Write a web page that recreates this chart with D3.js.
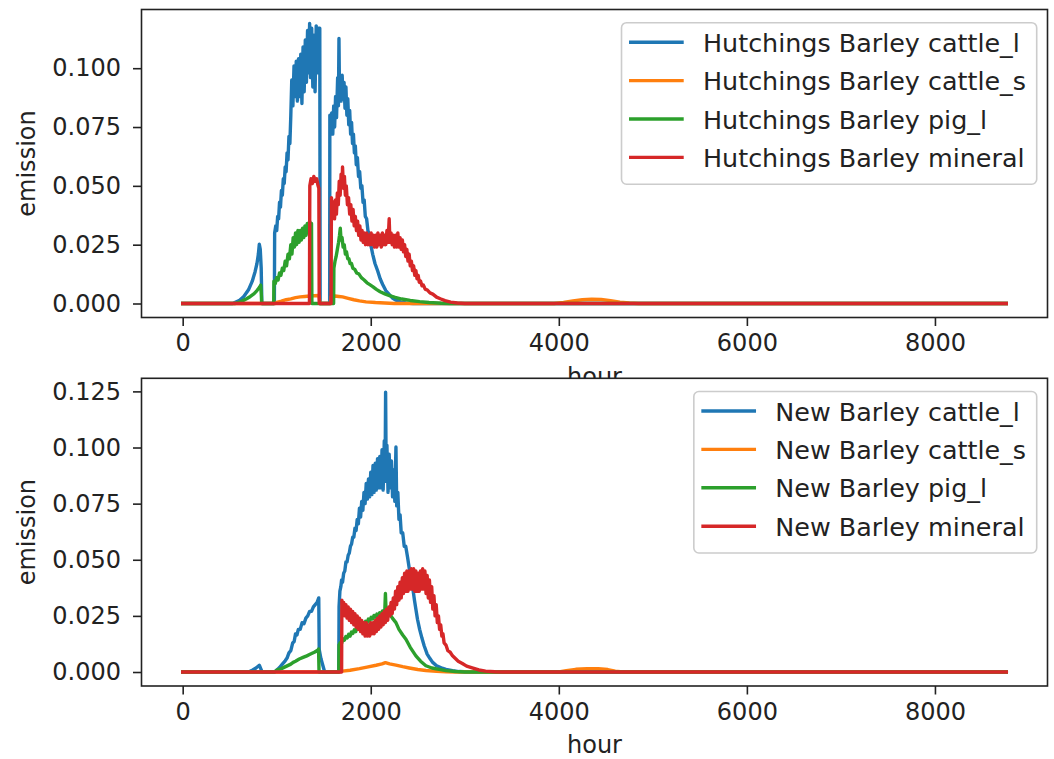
<!DOCTYPE html>
<html>
<head>
<meta charset="utf-8">
<script src="https://cdn.jsdelivr.net/npm/d3@7"></script>
<style>
  body { margin: 0; background: #fff; }
  svg { display: block; }
  text { font-family: "DejaVu Sans", sans-serif; fill: #222; }
</style>
</head>
<body>
<svg id="chart" width="1054" height="759"></svg>
<script>
// ---- Hourly emission series, [hour, emission] ----
const hutchCattleL = [
  [0,0],[530,0],[600,0.0012],[650,0.003],[700,0.0058],[740,0.0095],[770,0.0135],[790,0.017],[805,0.021],[815,0.0252],[825,0.023],[835,0.015],[842,0],
  [975,0],[978,0.030],[990,0.033],[1000,0.031],[1010,0.037],[1020,0.036],[1030,0.043],[1040,0.041],[1050,0.048],[1060,0.046],[1070,0.053],[1080,0.051],[1090,0.058],
  [1100,0.056],[1110,0.064],[1120,0.061],[1130,0.071],[1140,0.068],[1150,0.080],
  [1160,0.095],[1172,0.084],[1184,0.101],[1196,0.088],[1208,0.103],[1220,0.086],[1232,0.104],[1244,0.088],[1256,0.106],[1268,0.085],[1280,0.109],[1292,0.090],
  [1304,0.112],[1316,0.094],[1328,0.116],[1340,0.098],[1350,0.119],[1360,0.096],[1372,0.117],[1384,0.092],[1396,0.114],[1408,0.090],[1420,0.118],[1432,0.098],
  [1444,0.117],[1452,0.105],[1458,0.117],[1462,0],
  [1563,0],[1565,0.080],[1575,0.073],[1585,0.081],[1596,0.072],[1606,0.084],[1616,0.075],[1626,0.088],[1636,0.079],[1648,0.096],[1656,0.084],[1662,0.1126],
  [1668,0.088],[1676,0.094],[1686,0.086],[1696,0.097],[1706,0.087],[1716,0.094],[1726,0.083],[1736,0.092],[1746,0.080],[1756,0.087],[1766,0.076],[1776,0.082],
  [1786,0.072],[1796,0.077],[1806,0.068],[1816,0.072],[1826,0.064],[1836,0.067],[1846,0.059],[1858,0.062],[1870,0.054],[1882,0.056],[1894,0.049],[1906,0.050],
  [1918,0.043],[1930,0.044],[1942,0.037],[1956,0.036],[1970,0.031],[1986,0.029],[2000,0.025],[2021,0.0209],[2045,0.017],[2074,0.0138],[2100,0.0105],[2127,0.0081],
  [2160,0.0055],[2198,0.0038],[2235,0.0022],[2269,0.0014],[2320,0.0006],[2374,0.0002],[2450,0],[8759,0]
];
const hutchCattleS = [
  [0,0],[980,0],[1000,0.0005],[1050,0.001],[1100,0.0016],[1150,0.002],[1200,0.0025],[1250,0.0028],[1300,0.003],[1350,0.0032],[1400,0.0033],[1450,0.0034],[1460,0],
  [1575,0],[1580,0.003],[1620,0.0032],[1660,0.003],[1700,0.0028],[1760,0.0022],[1820,0.0016],[1880,0.0011],[1950,0.0007],[2050,0.0004],[2150,0.0002],[2250,0],
  [3950,0],[4050,0.0005],[4150,0.0011],[4250,0.0016],[4350,0.0018],[4450,0.0017],[4550,0.0012],[4650,0.0006],[4750,0.0002],[4850,0],[8759,0]
];
const hutchPigL = [
  [0,0],[560,0],[620,0.0008],[680,0.002],[720,0.003],[760,0.0042],[790,0.0055],[815,0.0068],[830,0.0078],[836,0.004],[840,0],
  [968,0],[970,0.0095],[985,0.0085],[1000,0.011],[1015,0.010],[1030,0.013],[1045,0.012],[1060,0.015],[1075,0.014],[1090,0.018],[1105,0.016],[1120,0.021],
  [1135,0.019],[1150,0.025],[1162,0.021],[1175,0.028],[1188,0.024],[1200,0.030],[1212,0.025],[1225,0.031],[1238,0.026],[1250,0.031],[1262,0.027],[1275,0.032],
  [1288,0.028],[1300,0.033],[1312,0.029],[1325,0.034],[1338,0.030],[1350,0.035],[1362,0.030],[1370,0.034],[1374,0],
  [1605,0],[1608,0.015],[1620,0.018],[1632,0.020],[1645,0.023],[1658,0.026],[1668,0.029],[1676,0.032],[1684,0.027],[1695,0.028],[1706,0.024],[1718,0.025],
  [1730,0.021],[1742,0.022],[1755,0.019],[1768,0.019],[1780,0.017],[1795,0.017],[1810,0.015],[1830,0.0145],[1850,0.013],[1875,0.0125],[1900,0.011],[1930,0.010],
  [1960,0.0088],[1990,0.008],[2021,0.0072],[2060,0.006],[2100,0.005],[2150,0.0041],[2200,0.0033],[2260,0.0026],[2330,0.0019],[2420,0.0013],[2520,0.0008],
  [2620,0.0004],[2750,0.0001],[2850,0],[8759,0]
];
const hutchMineral = [
  [0,0],[1348,0],[1352,0.050],[1365,0.053],[1380,0.051],[1395,0.054],[1410,0.052],[1425,0.053],[1440,0.050],[1448,0.049],[1452,0],
  [1578,0],[1582,0.045],[1595,0.040],[1605,0.043],[1615,0.036],[1625,0.044],[1635,0.038],[1645,0.047],[1655,0.042],[1665,0.052],[1675,0.046],[1685,0.055],
  [1695,0.050],[1700,0.058],[1710,0.049],[1720,0.054],[1730,0.046],[1740,0.050],[1752,0.042],[1764,0.045],[1776,0.038],[1788,0.042],[1800,0.035],[1812,0.040],
  [1824,0.033],[1836,0.037],[1848,0.031],[1860,0.035],[1872,0.029],[1884,0.033],[1896,0.027],[1908,0.031],[1920,0.026],[1932,0.030],[1944,0.025],[1956,0.030],
  [1968,0.025],[1980,0.029],[1992,0.025],[2004,0.030],[2016,0.025],[2028,0.029],[2040,0.024],[2052,0.029],[2064,0.024],[2076,0.030],[2088,0.025],[2100,0.029],
  [2112,0.024],[2124,0.030],[2136,0.025],[2148,0.029],[2160,0.025],[2172,0.031],[2184,0.026],[2196,0.036],[2204,0.026],[2216,0.030],[2228,0.025],[2240,0.029],
  [2252,0.024],[2264,0.029],[2276,0.024],[2288,0.030],[2300,0.024],[2312,0.028],[2324,0.023],[2336,0.027],[2348,0.022],[2360,0.025],[2372,0.020],[2384,0.023],
  [2396,0.018],[2408,0.021],[2420,0.016],[2432,0.018],[2444,0.014],[2456,0.016],[2468,0.012],[2480,0.014],[2492,0.0105],[2504,0.012],[2516,0.009],[2530,0.0095],
  [2545,0.0075],[2560,0.0078],[2580,0.006],[2600,0.0058],[2630,0.0045],[2660,0.004],[2700,0.0027],[2740,0.002],[2790,0.0012],[2850,0.0006],[2920,0.0002],
  [3000,0],[8759,0]
];

const newCattleL = [
  [0,0],[700,0],[740,0.0008],[780,0.0018],[815,0.003],[830,0.0015],[845,0],
  [975,0],[1000,0.0008],[1030,0.002],[1060,0.0035],[1090,0.005],[1110,0.0062],[1130,0.0085],[1150,0.0095],[1170,0.013],[1185,0.0135],[1200,0.017],[1215,0.0165],
  [1230,0.019],[1250,0.019],[1270,0.022],[1290,0.0215],[1310,0.024],[1330,0.025],[1350,0.027],[1370,0.027],[1390,0.029],[1410,0.030],[1430,0.031],[1447,0.033],
  [1452,0.010],[1470,0.006],[1490,0.003],[1510,0],
  [1660,0],[1663,0.029],[1672,0.036],[1682,0.038],[1690,0.041],[1700,0.040],[1712,0.044],[1724,0.045],[1736,0.049],[1748,0.049],[1760,0.052],[1772,0.053],
  [1784,0.056],[1796,0.057],[1808,0.060],[1820,0.060],[1832,0.064],[1844,0.063],[1856,0.068],[1868,0.066],[1880,0.073],[1892,0.069],[1904,0.076],[1916,0.072],
  [1928,0.080],[1940,0.075],[1952,0.084],[1964,0.077],[1976,0.086],[1988,0.078],[2000,0.089],[2012,0.079],[2024,0.092],[2036,0.080],[2048,0.093],[2060,0.081],
  [2072,0.095],[2084,0.082],[2096,0.096],[2108,0.082],[2120,0.099],[2132,0.081],[2144,0.103],[2152,0.085],[2158,0.1246],[2164,0.088],[2172,0.101],[2184,0.080],
  [2196,0.097],[2208,0.082],[2220,0.094],[2232,0.078],[2244,0.090],[2256,0.076],[2268,0.1002],[2276,0.074],[2288,0.080],[2300,0.068],[2312,0.070],[2324,0.062],
  [2340,0.062],[2356,0.056],[2372,0.056],[2392,0.051],[2410,0.046],[2430,0.042],[2445,0.038],[2465,0.032],[2480,0.028],[2497,0.0235],[2520,0.019],[2545,0.015],
  [2568,0.0117],[2600,0.008],[2630,0.006],[2656,0.0044],[2700,0.0028],[2750,0.0019],[2800,0.0012],[2870,0.0006],[2940,0.0002],[3050,0],[8759,0]
];
const newCattleS = [
  [0,0],[1660,0],[1700,0.0004],[1780,0.0008],[1880,0.0015],[1960,0.0022],[2057,0.0030],[2120,0.0036],[2156,0.0042],[2200,0.0036],[2268,0.0031],[2340,0.0024],
  [2410,0.0018],[2500,0.0011],[2586,0.0007],[2700,0.0003],[2800,0.0001],[2900,0],
  [4000,0],[4080,0.0006],[4180,0.0012],[4300,0.0015],[4420,0.0015],[4520,0.0011],[4600,0.0004],[4680,0],[8759,0]
];
const newPigL = [
  [0,0],[980,0],[1000,0.0008],[1050,0.0015],[1100,0.0025],[1150,0.0035],[1175,0.0043],[1200,0.0048],[1240,0.0058],[1280,0.0065],[1320,0.0072],[1360,0.0080],
  [1400,0.0088],[1440,0.0098],[1445,0.0102],[1450,0],
  [1660,0],[1663,0.012],[1675,0.013],[1690,0.0128],[1705,0.0148],[1720,0.0142],[1735,0.0158],[1750,0.0152],[1765,0.0168],[1780,0.0160],[1795,0.0178],[1810,0.0172],
  [1825,0.0188],[1840,0.0180],[1855,0.0198],[1870,0.0192],[1885,0.0208],[1900,0.0200],[1915,0.0218],[1930,0.0210],[1945,0.0226],[1960,0.0218],[1975,0.0236],
  [1990,0.0228],[2005,0.0244],[2020,0.0236],[2035,0.0252],[2050,0.0244],[2065,0.0258],[2080,0.0250],[2095,0.0264],[2110,0.0256],[2125,0.0272],[2140,0.0266],
  [2150,0.028],[2156,0.035],[2162,0.028],[2180,0.027],[2200,0.026],[2230,0.024],[2268,0.022],[2300,0.019],[2340,0.0165],[2374,0.0146],[2420,0.011],[2480,0.0072],
  [2530,0.0048],[2586,0.0028],[2650,0.0018],[2727,0.0012],[2800,0.0006],[2900,0.0002],[3000,0],[8759,0]
];
const newMineral = [
  [0,0],[1690,0],[1693,0.032],[1700,0.026],[1712,0.031],[1724,0.025],[1736,0.030],[1748,0.024],[1760,0.029],[1772,0.023],[1784,0.028],[1796,0.022],[1808,0.027],
  [1820,0.021],[1832,0.026],[1844,0.020],[1856,0.025],[1868,0.019],[1880,0.024],[1892,0.018],[1904,0.023],[1916,0.017],[1928,0.022],[1940,0.016],[1952,0.022],
  [1964,0.016],[1976,0.021],[1988,0.016],[2000,0.022],[2012,0.017],[2024,0.022],[2036,0.017],[2048,0.023],[2060,0.018],[2072,0.024],[2084,0.019],[2096,0.025],
  [2108,0.020],[2120,0.026],[2132,0.021],[2144,0.027],[2156,0.022],[2168,0.028],[2180,0.023],[2192,0.029],[2204,0.025],[2216,0.031],[2228,0.026],[2240,0.033],
  [2252,0.028],[2264,0.036],[2276,0.030],[2288,0.038],[2300,0.032],[2312,0.040],[2324,0.033],[2336,0.042],[2348,0.035],[2360,0.044],[2372,0.036],[2384,0.045],
  [2396,0.036],[2408,0.045],[2420,0.037],[2432,0.046],[2444,0.037],[2456,0.046],[2468,0.036],[2480,0.045],[2492,0.036],[2504,0.044],[2516,0.036],[2528,0.045],
  [2540,0.037],[2552,0.046],[2564,0.037],[2576,0.045],[2588,0.035],[2600,0.043],[2612,0.033],[2624,0.041],[2636,0.031],[2648,0.038],[2660,0.028],[2672,0.034],
  [2684,0.025],[2696,0.030],[2708,0.022],[2720,0.025],[2732,0.019],[2744,0.021],[2756,0.016],[2768,0.017],[2780,0.013],[2800,0.012],[2820,0.0095],[2845,0.0088],
  [2870,0.0072],[2900,0.006],[2930,0.0048],[2974,0.0038],[3020,0.0026],[3079,0.0018],[3150,0.0009],[3221,0.0004],[3320,0.0001],[3400,0],[8759,0]
];

const hutchLabels = ["Hutchings Barley cattle_l", "Hutchings Barley cattle_s", "Hutchings Barley pig_l", "Hutchings Barley mineral"];
const newLabels = ["New Barley cattle_l", "New Barley cattle_s", "New Barley pig_l", "New Barley mineral"];
const xTicks = [0, 2000, 4000, 6000, 8000];
const yTicksTop = [0, 0.025, 0.05, 0.075, 0.1];
const yTicksBottom = [0, 0.025, 0.05, 0.075, 0.1, 0.125];
const colors = ["#1f77b4", "#ff7f0e", "#2ca02c", "#d62728"];

// ---- Layout ----
const plotLeft = 141.5, plotRight = 1047.5;
const panels = [
  { top: 9.5, bottom: 317.5, series: [hutchCattleL, hutchCattleS, hutchPigL, hutchMineral], labels: hutchLabels, yTicks: yTicksTop },
  { top: 378.3, bottom: 686, series: [newCattleL, newCattleS, newPigL, newMineral], labels: newLabels, yTicks: yTicksBottom }
];

const svg = d3.select("#chart");
const FS = 24;

// autoscale with 5% margins on each side
function padded(ext) {
  const r = ext[1] - ext[0];
  return [ext[0] - 0.05 * r, ext[1] + 0.05 * r];
}

panels.forEach((p, idx) => {
  const g = svg.append("g").attr("class", "panel-" + idx);
  const pts = p.series.flat();
  const x = d3.scaleLinear().domain(padded(d3.extent(pts, d => d[0]))).range([plotLeft, plotRight]);
  const y = d3.scaleLinear().domain(padded(d3.extent(pts, d => d[1]))).range([p.bottom, p.top]);

  // axes background
  g.append("rect")
    .attr("x", plotLeft).attr("y", p.top)
    .attr("width", plotRight - plotLeft).attr("height", p.bottom - p.top)
    .attr("fill", "#fff");

  const clipId = "clip" + idx;
  g.append("clipPath").attr("id", clipId).append("rect")
    .attr("x", plotLeft).attr("y", p.top)
    .attr("width", plotRight - plotLeft).attr("height", p.bottom - p.top);

  const line = d3.line().x(d => x(d[0])).y(d => y(d[1]));
  g.append("g").attr("clip-path", `url(#${clipId})`)
    .selectAll("path").data(p.series).join("path")
    .attr("d", line)
    .attr("fill", "none")
    .attr("stroke", (d, i) => colors[i])
    .attr("stroke-width", 3.4)
    .attr("stroke-linejoin", "round")
    .attr("stroke-linecap", "square");

  // axes
  const xAxis = g.append("g").attr("transform", `translate(0,${p.bottom})`)
    .call(d3.axisBottom(x).tickValues(xTicks).tickFormat(d3.format("d")).tickSize(8.5).tickPadding(8));
  const yAxis = g.append("g").attr("transform", `translate(${plotLeft},0)`)
    .call(d3.axisLeft(y).tickValues(p.yTicks).tickFormat(d3.format(".3f")).tickSize(8.5).tickPadding(12));
  [xAxis, yAxis].forEach(a => {
    a.select(".domain").remove();
    a.attr("font-family", null).attr("font-size", null);
    a.selectAll(".tick line").attr("stroke", "#222").attr("stroke-width", 1.6);
    a.selectAll(".tick text").attr("fill", "#222").style("font-size", FS + "px");
  });

  // spines
  g.append("rect")
    .attr("x", plotLeft).attr("y", p.top)
    .attr("width", plotRight - plotLeft).attr("height", p.bottom - p.top)
    .attr("fill", "none").attr("stroke", "#222").attr("stroke-width", 1.6);

  // axis labels
  g.append("text")
    .attr("x", (plotLeft + plotRight) / 2).attr("y", p.bottom + 67)
    .attr("text-anchor", "middle").style("font-size", FS + "px")
    .text("hour");
  g.append("text")
    .attr("transform", `translate(35,${(p.top + p.bottom) / 2}) rotate(-90)`)
    .attr("text-anchor", "middle").style("font-size", FS + "px")
    .text("emission");

  // legend
  const LFS = 25.4;
  const legendRight = 1036.7, rowGap = 38.4;
  const leg = g.append("g");
  const box = leg.append("rect");
  const texts = leg.selectAll("text").data(p.labels).join("text")
    .style("font-size", LFS + "px")
    .text(d => d);
  let maxW = 0;
  texts.each(function () { maxW = Math.max(maxW, this.getComputedTextLength()); });
  const boxW = 7.5 + 74 + maxW + 10.7;
  const boxL = legendRight - boxW;
  const boxT = p.top + 13.2;
  box.attr("x", boxL).attr("y", boxT).attr("width", boxW).attr("height", 161.5)
    .attr("rx", 5).attr("fill", "#fff").attr("fill-opacity", 0.8)
    .attr("stroke", "#ccc").attr("stroke-width", 1.6);
  leg.selectAll("line").data(p.labels).join("line")
    .attr("x1", boxL + 7.5).attr("x2", boxL + 7.5 + 54.7)
    .attr("y1", (d, i) => boxT + 19.5 + i * rowGap)
    .attr("y2", (d, i) => boxT + 19.5 + i * rowGap)
    .attr("stroke", (d, i) => colors[i]).attr("stroke-width", 3.4);
  texts.attr("x", boxL + 7.5 + 74)
    .attr("y", (d, i) => boxT + 19.5 + i * rowGap + 9.5);
  texts.raise();
});
</script>
</body>
</html>
